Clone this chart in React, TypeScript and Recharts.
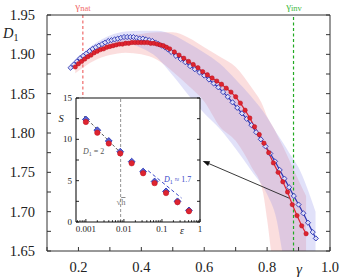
import React from 'react';
import { ComposedChart, Line, Area, XAxis, YAxis, ReferenceLine, CartesianGrid } from 'recharts';

// ---------- main panel data ----------
const gammaBlue = [0.175,0.185,0.195,0.205,0.215,0.225,0.235,0.245,0.255,0.265,0.275,0.285,0.295,0.305,0.315,0.325,0.335,0.345,0.355,0.365,0.375,0.385,0.395,0.405,0.415,0.425,0.435,0.445,0.455,0.465,0.475,0.485,0.495,0.51,0.525,0.54,0.555,0.57,0.585,0.6,0.615,0.63,0.645,0.66,0.675,0.69,0.705,0.72,0.735,0.75,0.765,0.78,0.795,0.81,0.825,0.84,0.855,0.87,0.885,0.9,0.915,0.93,0.945,0.955];
const d1Blue = [1.883,1.887,1.891,1.895,1.898,1.901,1.904,1.907,1.909,1.911,1.913,1.915,1.917,1.918,1.919,1.92,1.921,1.922,1.922,1.922,1.922,1.921,1.92,1.92,1.919,1.918,1.917,1.915,1.913,1.911,1.909,1.906,1.903,1.898,1.894,1.89,1.885,1.881,1.877,1.873,1.868,1.863,1.858,1.852,1.846,1.839,1.832,1.825,1.818,1.81,1.801,1.792,1.783,1.774,1.764,1.753,1.742,1.731,1.72,1.709,1.698,1.686,1.674,1.666];

const gammaRed = [0.19,0.2,0.21,0.22,0.23,0.24,0.25,0.26,0.27,0.28,0.29,0.3,0.31,0.32,0.33,0.34,0.35,0.36,0.37,0.38,0.39,0.4,0.41,0.42,0.43,0.44,0.45,0.46,0.47,0.48,0.49,0.505,0.52,0.535,0.55,0.565,0.58,0.595,0.61,0.625,0.64,0.655,0.67,0.685,0.7,0.715,0.73,0.745,0.76,0.775,0.79,0.805,0.82,0.835,0.85,0.865,0.88,0.895,0.91,0.924];
const d1Red = [1.884,1.888,1.891,1.894,1.897,1.899,1.902,1.904,1.906,1.907,1.909,1.91,1.911,1.912,1.913,1.913,1.914,1.914,1.915,1.915,1.915,1.915,1.915,1.915,1.914,1.914,1.913,1.912,1.911,1.909,1.907,1.903,1.899,1.895,1.891,1.887,1.883,1.878,1.874,1.87,1.866,1.862,1.857,1.852,1.846,1.838,1.829,1.819,1.808,1.798,1.787,1.775,1.762,1.75,1.738,1.725,1.709,1.695,1.682,1.672];

const bandRedGamma = [0.19,0.25,0.3,0.35,0.4,0.45,0.5,0.55,0.6,0.65,0.7,0.75,0.786,0.8,0.82,0.85,0.9,0.924];
const bandRedLow = [1.876,1.892,1.899,1.902,1.9,1.893,1.878,1.86,1.84,1.808,1.79,1.757,1.726,1.69,1.63,1.6,1.6,1.6];
const bandRedHigh = [1.889,1.908,1.918,1.923,1.926,1.928,1.928,1.921,1.909,1.897,1.884,1.858,1.835,1.821,1.807,1.783,1.74,1.72];

const bandBlueGamma = [0.175,0.25,0.3,0.35,0.4,0.45,0.5,0.55,0.6,0.65,0.7,0.75,0.8,0.83,0.85,0.87,0.9,0.954];
const bandBlueLow = [1.879,1.903,1.912,1.914,1.908,1.896,1.873,1.848,1.825,1.805,1.78,1.752,1.722,1.69,1.645,1.6,1.6,1.6];
const bandBlueHigh = [1.887,1.913,1.924,1.929,1.93,1.93,1.925,1.914,1.902,1.888,1.868,1.846,1.82,1.8,1.788,1.775,1.756,1.7];

const gammaNat = 0.214;
const gammaInv = 0.884;
const arrowFrom = { g: 0.871, d: 1.717 };
const arrowTo = { g: 0.595, d: 1.7645 };

const xTicks = [0.1,0.2,0.3,0.4,0.5,0.6,0.7,0.8,0.9,1.0];
const xLabelTicks = [0.2,0.4,0.6,0.8,1.0];
const xLabels = ['0.2','0.4','0.6','0.8','1.0'];
const yTicks = [1.65,1.675,1.7,1.725,1.75,1.775,1.8,1.825,1.85,1.875,1.9,1.925,1.95];
const yLabelTicks = [1.65,1.7,1.75,1.8,1.85,1.9,1.95];
const yLabels = ['1.65','1.70','1.75','1.80','1.85','1.90','1.95'];

// ---------- inset data ----------
const epsValues = [0.001,0.002,0.004,0.008,0.016,0.032,0.064,0.128,0.256,0.512];
const sRed = [12.1,10.8,9.5,8.3,7.1,5.9,4.7,3.5,2.4,1.3];
const sBlue = [12.4,11.1,9.8,8.5,7.3,6.1,4.9,3.7,2.5,1.4];
const dashD2Eps = [0.0009,0.0085];
const dashD2S = [12.8,8.3];
const dashD17Eps = [0.0434,0.327];
const dashD17S = [6.2,2.9];
const sqrtHEps = 0.0082;

const insetXTicks = [0.0006,0.0007,0.0008,0.0009,0.001,0.002,0.003,0.004,0.005,0.006,0.007,0.008,0.009,0.01,0.02,0.03,0.04,0.05,0.06,0.07,0.08,0.09,0.1,0.2,0.3,0.4,0.5,0.6,0.7,0.8,0.9,1];
const insetXLabelTicks = [0.001,0.01,0.1,1];
const insetXLabels = ['0.001','0.01','0.1','1'];
const insetYTicks = [0,2.5,5,7.5,10,12.5,15];
const insetYLabelTicks = [0,5,10,15];
const insetYLabels = ['0','5','10','15'];

// ---------- styling ----------
const FONT = '"Liberation Serif", "Times New Roman", serif';
const AX = '#333';
const RED = '#de2430';
const BLUE = '#2a36b4';

const findLabel = (v: number, ticks: number[], labels: string[]) => {
  const i = ticks.findIndex((t) => Math.abs(t - v) < 1e-9);
  return i >= 0 ? labels[i] : null;
};
const findLabelRel = (v: number, ticks: number[], labels: string[]) => {
  const i = ticks.findIndex((t) => Math.abs(t - v) / t < 1e-6);
  return i >= 0 ? labels[i] : null;
};

const BottomTick = (p: any) => {
  const lab = findLabel(p.payload.value, xLabelTicks, xLabels);
  return (
    <g>
      <line x1={p.x} x2={p.x} y1={p.y} y2={p.y - 4} stroke={AX} strokeWidth={1} />
      {lab && (
        <text x={p.x} y={p.y + 21} textAnchor="middle" fontSize={14.5} fontFamily={FONT} fill="#222">{lab}</text>
      )}
    </g>
  );
};
const TopTick = (p: any) => (
  <line x1={p.x} x2={p.x} y1={p.y} y2={p.y + 4} stroke={AX} strokeWidth={1} />
);
const LeftTick = (p: any) => {
  const lab = findLabel(p.payload.value, yLabelTicks, yLabels);
  return (
    <g>
      <line x1={p.x} x2={p.x + 4} y1={p.y} y2={p.y} stroke={AX} strokeWidth={1} />
      {lab && (
        <text x={p.x - 12} y={p.y} dy="0.34em" textAnchor="end" fontSize={14.5} fontFamily={FONT} fill="#222">{lab}</text>
      )}
    </g>
  );
};
const RightTick = (p: any) => (
  <line x1={p.x} x2={p.x - 4} y1={p.y} y2={p.y} stroke={AX} strokeWidth={1} />
);

const InsetBottomTick = (p: any) => {
  const lab = findLabelRel(p.payload.value, insetXLabelTicks, insetXLabels);
  return (
    <g>
      <line x1={p.x} x2={p.x} y1={p.y} y2={p.y - (lab ? 3 : 1.8)} stroke="#111" strokeWidth={0.9} />
      {lab && (
        <text x={p.x} y={p.y + 10} textAnchor="middle" fontSize={9} fontFamily={FONT} fill="#222">{lab}</text>
      )}
    </g>
  );
};
const InsetTopTick = (p: any) => {
  const lab = findLabelRel(p.payload.value, insetXLabelTicks, insetXLabels);
  return <line x1={p.x} x2={p.x} y1={p.y} y2={p.y + (lab ? 3 : 1.8)} stroke="#111" strokeWidth={0.9} />;
};
const InsetLeftTick = (p: any) => {
  const lab = findLabel(p.payload.value, insetYLabelTicks, insetYLabels);
  return (
    <g>
      <line x1={p.x} x2={p.x + 3} y1={p.y} y2={p.y} stroke="#111" strokeWidth={0.9} />
      {lab && (
        <text x={p.x - 4} y={p.y} dy="0.34em" textAnchor="end" fontSize={9} fontFamily={FONT} fill="#222">{lab}</text>
      )}
    </g>
  );
};
const InsetRightTick = (p: any) => (
  <line x1={p.x} x2={p.x - 3} y1={p.y} y2={p.y} stroke="#111" strokeWidth={0.9} />
);

const makeDiamond = (s: number, fill: string, stroke: string) => (p: any) => {
  if (p.cx == null || p.cy == null) return <g key={`dn-${p.index}`} />;
  const { cx, cy } = p;
  return (
    <polygon
      key={`dm-${p.index}`}
      points={`${cx},${cy - s} ${cx + s},${cy} ${cx},${cy + s} ${cx - s},${cy}`}
      fill={fill}
      stroke={stroke}
      strokeWidth={0.9}
    />
  );
};
const makeCircle = (r: number, fill: string, stroke: string) => (p: any) => {
  if (p.cx == null || p.cy == null) return <g key={`cn-${p.index}`} />;
  return <circle key={`ci-${p.index}`} cx={p.cx} cy={p.cy} r={r} fill={fill} stroke={stroke} strokeWidth={0.5} />;
};

const ArrowShape = (p: any) => {
  const { x1, y1, x2, y2 } = p;
  if ([x1, y1, x2, y2].some((v) => v == null || isNaN(v))) return <g />;
  const dx = x2 - x1;
  const dy = y2 - y1;
  const len = Math.sqrt(dx * dx + dy * dy) || 1;
  const ux = dx / len;
  const uy = dy / len;
  const hl = 7;
  const hw = 2.6;
  const bx = x2 - ux * hl;
  const by = y2 - uy * hl;
  const pts = `${x2},${y2} ${bx - uy * hw},${by + ux * hw} ${bx + uy * hw},${by - ux * hw}`;
  return (
    <g>
      <line x1={x1} y1={y1} x2={bx} y2={by} stroke="#222" strokeWidth={0.9} />
      <polygon points={pts} fill="#111" />
    </g>
  );
};

const blueData = gammaBlue.map((g, i) => ({ g, d: d1Blue[i] }));
const redData = gammaRed.map((g, i) => ({ g, d: d1Red[i] }));
const redBand = bandRedGamma.map((g, i) => ({ g, range: [bandRedLow[i], bandRedHigh[i]] }));
const blueBand = bandBlueGamma.map((g, i) => ({ g, range: [bandBlueLow[i], bandBlueHigh[i]] }));

const insetRed = epsValues.map((e, i) => ({ e, s: sRed[i] }));
const insetBlue = epsValues.map((e, i) => ({ e, s: sBlue[i] }));
const dashD2 = dashD2Eps.map((e, i) => ({ e, s: dashD2S[i] }));
const dashD17 = dashD17Eps.map((e, i) => ({ e, s: dashD17S[i] }));

const noLine = { tickLine: false, tickSize: 0, tickMargin: 0, interval: 0 as const };

export default function App() {
  return (
    <div style={{ position: 'absolute', left: 0, top: 0, width: 342, height: 279, background: '#fff', fontFamily: FONT }}>
      <div style={{ position: 'absolute', left: 0, top: 0 }}>
        <ComposedChart width={342} height={279} margin={{ top: 14, right: 11, bottom: 27, left: 46 }}>
          <XAxis dataKey="g" type="number" domain={[0.1, 1]} allowDataOverflow ticks={xTicks} tick={BottomTick} height={1} axisLine={{ stroke: AX, strokeWidth: 1 }} {...noLine} />
          <XAxis xAxisId="top" orientation="top" type="number" domain={[0.1, 1]} allowDataOverflow ticks={xTicks} tick={TopTick} height={1} axisLine={{ stroke: AX, strokeWidth: 1 }} {...noLine} />
          <YAxis type="number" domain={[1.65, 1.95]} allowDataOverflow ticks={yTicks} tick={LeftTick} width={1} axisLine={{ stroke: AX, strokeWidth: 1 }} {...noLine} />
          <YAxis yAxisId="r" orientation="right" type="number" domain={[1.65, 1.95]} allowDataOverflow ticks={yTicks} tick={RightTick} width={1} axisLine={{ stroke: AX, strokeWidth: 1 }} {...noLine} />
          <Area data={redBand} dataKey="range" type="monotone" stroke="none" fill="#f08a8a" fillOpacity={0.28} isAnimationActive={false} activeDot={false} />
          <Area data={blueBand} dataKey="range" type="monotone" stroke="none" fill="#8a8ae6" fillOpacity={0.26} isAnimationActive={false} activeDot={false} />
          <ReferenceLine segment={[{ x: gammaNat, y: 1.95 }, { x: gammaNat, y: 1.75 }]} stroke="#f06a6a" strokeWidth={1.2} strokeDasharray="3 2.5" ifOverflow="visible" />
          <ReferenceLine x={gammaInv} stroke="#22aa22" strokeWidth={1.2} strokeDasharray="3 2.5" />
          <Line data={blueData} dataKey="d" type="linear" stroke={BLUE} strokeWidth={1.2} dot={makeDiamond(2.6, '#dcdcf6', BLUE)} isAnimationActive={false} activeDot={false} />
          <Line data={redData} dataKey="d" type="linear" stroke={RED} strokeWidth={1.2} dot={makeCircle(2.2, RED, '#b8101a')} isAnimationActive={false} activeDot={false} />
          <ReferenceLine segment={[{ x: arrowFrom.g, y: arrowFrom.d }, { x: arrowTo.g, y: arrowTo.d }]} shape={ArrowShape} ifOverflow="visible" />
        </ComposedChart>
      </div>

      <div style={{ position: 'absolute', left: 50, top: 88 }}>
        <ComposedChart width={160} height={150} margin={{ top: 9, right: 9, bottom: 15, left: 25 }}>
          <CartesianGrid fill="#fff" horizontal={false} vertical={false} />
          <XAxis dataKey="e" type="number" scale="log" domain={[0.00055, 1]} allowDataOverflow ticks={insetXTicks} tick={InsetBottomTick} height={1} axisLine={{ stroke: '#111', strokeWidth: 1.1 }} {...noLine} />
          <XAxis xAxisId="top" orientation="top" type="number" scale="log" domain={[0.00055, 1]} allowDataOverflow ticks={insetXTicks} tick={InsetTopTick} height={1} axisLine={{ stroke: '#111', strokeWidth: 1.1 }} {...noLine} />
          <YAxis type="number" domain={[0, 15]} allowDataOverflow ticks={insetYTicks} tick={InsetLeftTick} width={1} axisLine={{ stroke: '#111', strokeWidth: 1.1 }} {...noLine} />
          <YAxis yAxisId="r" orientation="right" type="number" domain={[0, 15]} allowDataOverflow ticks={insetYTicks} tick={InsetRightTick} width={1} axisLine={{ stroke: '#111', strokeWidth: 1.1 }} {...noLine} />
          <ReferenceLine x={sqrtHEps} stroke="#888" strokeWidth={0.9} strokeDasharray="3 2" />
          <Line data={dashD2} dataKey="s" type="linear" stroke="#444" strokeWidth={0.9} strokeDasharray="3 2" dot={false} isAnimationActive={false} activeDot={false} />
          <Line data={dashD17} dataKey="s" type="linear" stroke="#3a48c8" strokeWidth={1} strokeDasharray="3.5 2.5" dot={false} isAnimationActive={false} activeDot={false} />
          <Line data={insetBlue} dataKey="s" stroke="none" dot={makeDiamond(3.4, '#5a66d0', '#2a36b4')} isAnimationActive={false} activeDot={false} />
          <Line data={insetRed} dataKey="s" stroke="none" dot={makeCircle(2.7, RED, '#c0101c')} isAnimationActive={false} activeDot={false} />
        </ComposedChart>
      </div>

      <svg width={342} height={279} style={{ position: 'absolute', left: 0, top: 0, pointerEvents: 'none' }} fontFamily={FONT}>
        <text x={83} y={10} textAnchor="middle" fill="#f06a6a">
          <tspan fontSize={11}>γ</tspan>
          <tspan fontSize={8.5} dy={1}>nat</tspan>
        </text>
        <text x={294} y={10} textAnchor="middle" fill="#44bb44">
          <tspan fontSize={11}>γ</tspan>
          <tspan fontSize={8.5} dy={1}>inv</tspan>
        </text>
        <text x={3} y={38} fill="#222">
          <tspan fontSize={14.5} fontStyle="italic">D</tspan>
          <tspan fontSize={10} dy={3}>1</tspan>
        </text>
        <text x={299} y={274} textAnchor="middle" fontSize={14.5} fontStyle="italic" fill="#222">γ</text>
        <text x={61} y={122} textAnchor="middle" fontSize={10.5} fontStyle="italic" fill="#222">S</text>
        <text x={182} y={234} textAnchor="middle" fontSize={10} fontStyle="italic" fill="#222">ε</text>
        <text x={83} y={154} fill="#555" fontSize={8}>
          <tspan fontStyle="italic">D</tspan>
          <tspan fontSize={6} dy={1.5}>1</tspan>
          <tspan dy={-1.5}> = 2</tspan>
        </text>
        <text x={164} y={182} fill="#3a48c8" fontSize={8}>
          <tspan fontStyle="italic">D</tspan>
          <tspan fontSize={6} dy={1.5}>1</tspan>
          <tspan dy={-1.5}> ≈ 1.7</tspan>
        </text>
        <text x={121} y={205} textAnchor="middle" fill="#777" fontSize={8.5}>√<tspan textDecoration="overline">h</tspan></text>
      </svg>
    </div>
  );
}
